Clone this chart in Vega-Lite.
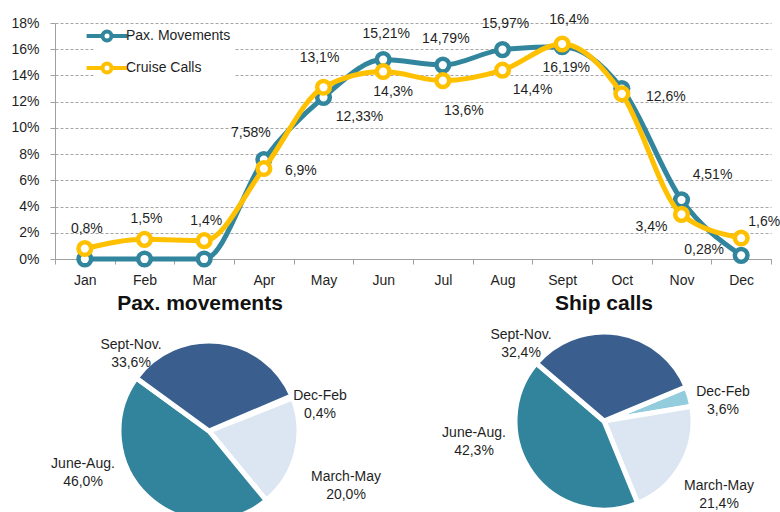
{
  "$schema": "https://vega.github.io/schema/vega-lite/v6.json",
  "padding": {"left": 10, "top": 12, "right": 0, "bottom": 0},
  "background": "white",
  "config": {
    "font": "Liberation Sans",
    "view": {"stroke": null},
    "text": {"fontSize": 14, "color": "#1f1f1f"}
  },
  "datasets": {
    "monthly": [
      {"month": "Jan", "series": "Pax. Movements", "share": 0, "label": ""},
      {"month": "Feb", "series": "Pax. Movements", "share": 0, "label": ""},
      {"month": "Mar", "series": "Pax. Movements", "share": 0, "label": ""},
      {"month": "Apr", "series": "Pax. Movements", "share": 7.58, "label": "7,58%"},
      {"month": "May", "series": "Pax. Movements", "share": 12.33, "label": "12,33%"},
      {"month": "Jun", "series": "Pax. Movements", "share": 15.21, "label": "15,21%"},
      {"month": "Jul", "series": "Pax. Movements", "share": 14.79, "label": "14,79%"},
      {"month": "Aug", "series": "Pax. Movements", "share": 15.97, "label": "15,97%"},
      {"month": "Sept", "series": "Pax. Movements", "share": 16.19, "label": "16,19%"},
      {"month": "Oct", "series": "Pax. Movements", "share": 13.0, "label": ""},
      {"month": "Nov", "series": "Pax. Movements", "share": 4.51, "label": "4,51%"},
      {"month": "Dec", "series": "Pax. Movements", "share": 0.28, "label": "0,28%"},
      {"month": "Jan", "series": "Cruise Calls", "share": 0.8, "label": "0,8%"},
      {"month": "Feb", "series": "Cruise Calls", "share": 1.5, "label": "1,5%"},
      {"month": "Mar", "series": "Cruise Calls", "share": 1.4, "label": "1,4%"},
      {"month": "Apr", "series": "Cruise Calls", "share": 6.9, "label": "6,9%"},
      {"month": "May", "series": "Cruise Calls", "share": 13.1, "label": "13,1%"},
      {"month": "Jun", "series": "Cruise Calls", "share": 14.3, "label": "14,3%"},
      {"month": "Jul", "series": "Cruise Calls", "share": 13.6, "label": "13,6%"},
      {"month": "Aug", "series": "Cruise Calls", "share": 14.4, "label": "14,4%"},
      {"month": "Sept", "series": "Cruise Calls", "share": 16.4, "label": "16,4%"},
      {"month": "Oct", "series": "Cruise Calls", "share": 12.6, "label": "12,6%"},
      {"month": "Nov", "series": "Cruise Calls", "share": 3.4, "label": "3,4%"},
      {"month": "Dec", "series": "Cruise Calls", "share": 1.6, "label": "1,6%"}
    ],
    "pies": [
      {"chart": "Pax. movements", "season": "Dec-Feb", "q": 1, "share": 0.4, "label": "Dec-Feb\n0,4%"},
      {"chart": "Pax. movements", "season": "March-May", "q": 2, "share": 20.0, "label": "March-May\n20,0%"},
      {"chart": "Pax. movements", "season": "June-Aug.", "q": 3, "share": 46.0, "label": "June-Aug.\n46,0%"},
      {"chart": "Pax. movements", "season": "Sept-Nov.", "q": 4, "share": 33.6, "label": "Sept-Nov.\n33,6%"},
      {"chart": "Ship calls", "season": "Dec-Feb", "q": 1, "share": 3.6, "label": "Dec-Feb\n3,6%"},
      {"chart": "Ship calls", "season": "March-May", "q": 2, "share": 21.4, "label": "March-May\n21,4%"},
      {"chart": "Ship calls", "season": "June-Aug.", "q": 3, "share": 42.3, "label": "June-Aug.\n42,3%"},
      {"chart": "Ship calls", "season": "Sept-Nov.", "q": 4, "share": 32.4, "label": "Sept-Nov.\n32,4%"}
    ]
  },
  "spacing": 6,
  "resolve": {"scale": {"color": "independent"}, "legend": {"color": "independent"}},
  "vconcat": [
    {
      "width": 716,
      "height": 236,
      "data": {"name": "monthly"},
      "encoding": {
        "x": {
          "field": "month", "type": "ordinal",
          "sort": ["Jan","Feb","Mar","Apr","May","Jun","Jul","Aug","Sept","Oct","Nov","Dec"],
          "scale": {"type": "band", "paddingInner": 0, "paddingOuter": 0},
          "axis": {"title": null, "labelAngle": 0, "tickBand": "extent", "grid": false,
                   "domainColor": "#a0a0a0", "tickColor": "#a0a0a0", "tickSize": 5,
                   "labelFontSize": 14, "labelColor": "#1f1f1f", "labelPadding": 9}
        },
        "y": {
          "field": "share", "type": "quantitative",
          "scale": {"domain": [0, 18]},
          "axis": {"title": null, "values": [0,2,4,6,8,10,12,14,16,18], "labelExpr": "datum.value + '%'",
                   "grid": true, "gridDash": [3,2], "gridColor": "#a6a6a6",
                   "domainColor": "#a0a0a0", "tickColor": "#a0a0a0", "tickSize": 5,
                   "labelFontSize": 14, "labelColor": "#1f1f1f", "labelPadding": 11}
        }
      },
      "layer": [
        {
          "transform": [{"filter": "datum.series == 'Pax. Movements'"}],
          "mark": {"type": "line", "interpolate": "monotone", "strokeWidth": 5},
          "encoding": {
            "color": {"field": "series", "type": "nominal",
              "scale": {"domain": ["Pax. Movements", "Cruise Calls"], "range": ["#31859C", "#FFC000"]},
              "legend": {"title": null, "orient": "none", "legendX": 40, "legendY": 1, "fillColor": "white",
                         "padding": 4, "symbolType": "M-3.4,0L-0.75,0M0.75,0L3.4,0M-0.75,0A0.75,0.75,0,1,1,0.75,0A0.75,0.75,0,1,1,-0.75,0Z",
                         "symbolSize": 144, "symbolStrokeWidth": 4, "symbolFillColor": "white",
                         "labelFontSize": 14, "labelColor": "#1f1f1f", "labelOffset": 11, "rowPadding": 6}}
          }
        },
        {
          "transform": [{"filter": "datum.series == 'Pax. Movements'"}],
          "mark": {"type": "point", "shape": "circle", "filled": false, "fill": "white", "size": 160, "strokeWidth": 4.5, "opacity": 1},
          "encoding": {"color": {"field": "series", "type": "nominal"}}
        },
        {
          "transform": [{"filter": "datum.series == 'Cruise Calls'"}],
          "mark": {"type": "line", "interpolate": "monotone", "strokeWidth": 5},
          "encoding": {"color": {"field": "series", "type": "nominal"}}
        },
        {
          "transform": [{"filter": "datum.series == 'Cruise Calls'"}],
          "mark": {"type": "point", "shape": "circle", "filled": false, "fill": "white", "size": 160, "strokeWidth": 4.5, "opacity": 1},
          "encoding": {"color": {"field": "series", "type": "nominal"}}
        },
        {"transform": [{"filter": "datum.series == 'Pax. Movements' && indexof(['Jun','Jul','Aug'], datum.month) >= 0"}],
         "mark": {"type": "text", "dx": 3, "dy": -26}, "encoding": {"text": {"field": "label"}}},
        {"transform": [{"filter": "datum.series == 'Pax. Movements' && datum.month == 'Apr'"}],
         "mark": {"type": "text", "dx": -13, "dy": -27}, "encoding": {"text": {"field": "label"}}},
        {"transform": [{"filter": "datum.series == 'Pax. Movements' && datum.month == 'May'"}],
         "mark": {"type": "text", "dx": 36, "dy": 20}, "encoding": {"text": {"field": "label"}}},
        {"transform": [{"filter": "datum.series == 'Pax. Movements' && datum.month == 'Sept'"}],
         "mark": {"type": "text", "dx": 4, "dy": 21}, "encoding": {"text": {"field": "label"}}},
        {"transform": [{"filter": "datum.series == 'Pax. Movements' && datum.month == 'Nov'"}],
         "mark": {"type": "text", "dx": 31, "dy": -25}, "encoding": {"text": {"field": "label"}}},
        {"transform": [{"filter": "datum.series == 'Pax. Movements' && datum.month == 'Dec'"}],
         "mark": {"type": "text", "dx": -37, "dy": -5}, "encoding": {"text": {"field": "label"}}},
        {"transform": [{"filter": "datum.series == 'Cruise Calls' && indexof(['Jan','Feb','Mar'], datum.month) >= 0"}],
         "mark": {"type": "text", "dx": 2, "dy": -20}, "encoding": {"text": {"field": "label"}}},
        {"transform": [{"filter": "datum.series == 'Cruise Calls' && datum.month == 'May'"}],
         "mark": {"type": "text", "dx": -4, "dy": -29}, "encoding": {"text": {"field": "label"}}},
        {"transform": [{"filter": "datum.series == 'Cruise Calls' && datum.month == 'Sept'"}],
         "mark": {"type": "text", "dx": 7, "dy": -24}, "encoding": {"text": {"field": "label"}}},
        {"transform": [{"filter": "datum.series == 'Cruise Calls' && datum.month == 'Apr'"}],
         "mark": {"type": "text", "dx": 37, "dy": 2}, "encoding": {"text": {"field": "label"}}},
        {"transform": [{"filter": "datum.series == 'Cruise Calls' && datum.month == 'Jun'"}],
         "mark": {"type": "text", "dx": 10, "dy": 20}, "encoding": {"text": {"field": "label"}}},
        {"transform": [{"filter": "datum.series == 'Cruise Calls' && datum.month == 'Jul'"}],
         "mark": {"type": "text", "dx": 21, "dy": 30}, "encoding": {"text": {"field": "label"}}},
        {"transform": [{"filter": "datum.series == 'Cruise Calls' && datum.month == 'Aug'"}],
         "mark": {"type": "text", "dx": 30, "dy": 20}, "encoding": {"text": {"field": "label"}}},
        {"transform": [{"filter": "datum.series == 'Cruise Calls' && datum.month == 'Oct'"}],
         "mark": {"type": "text", "dx": 44, "dy": 3}, "encoding": {"text": {"field": "label"}}},
        {"transform": [{"filter": "datum.series == 'Cruise Calls' && datum.month == 'Nov'"}],
         "mark": {"type": "text", "dx": -30, "dy": 13}, "encoding": {"text": {"field": "label"}}},
        {"transform": [{"filter": "datum.series == 'Cruise Calls' && datum.month == 'Dec'"}],
         "mark": {"type": "text", "dx": 23, "dy": -16}, "encoding": {"text": {"field": "label"}}}
      ]
    },
    {
      "width": 716,
      "height": 184,
      "data": {"name": "pies"},
      "encoding": {
        "x": {"field": "chart", "type": "nominal",
              "scale": {"type": "point", "padding": 0, "domain": ["Pax. movements", "Ship calls"], "range": [154, 549]}, "axis": null},
        "y": {"field": "chart", "type": "nominal",
              "scale": {"type": "point", "padding": 0, "domain": ["Pax. movements", "Ship calls"], "range": [102, 92]}, "axis": null}
      },
      "layer": [
        {
          "transform": [{"filter": "datum.chart == 'Pax. movements'"}],
          "mark": {"type": "arc", "outerRadius": 90, "stroke": "white", "strokeWidth": 5, "clip": true},
          "encoding": {
            "theta": {"field": "share", "type": "quantitative", "stack": true, "scale": {"range": [1.17, 7.453]}},
            "order": {"field": "q", "type": "quantitative", "sort": "ascending"},
            "color": {"field": "season", "type": "nominal",
              "scale": {"domain": ["Dec-Feb", "March-May", "June-Aug.", "Sept-Nov."], "range": ["#93CDDD", "#DCE6F2", "#31849B", "#3A5F8F"]},
              "legend": null}
          }
        },
        {
          "transform": [{"filter": "datum.chart == 'Ship calls'"}],
          "mark": {"type": "arc", "outerRadius": 89, "stroke": "white", "strokeWidth": 5, "clip": true},
          "encoding": {
            "theta": {"field": "share", "type": "quantitative", "stack": true, "scale": {"range": [1.178, 7.461]}},
            "order": {"field": "q", "type": "quantitative", "sort": "ascending"},
            "color": {"field": "season", "type": "nominal", "legend": null}
          }
        },
        {"transform": [{"filter": "datum.chart == 'Pax. movements' && datum.season == 'Dec-Feb'"}],
         "mark": {"type": "text", "fontSize": 21, "fontWeight": "bold", "dx": -9, "dy": -127, "color": "#111"},
         "encoding": {"text": {"field": "chart"}}},
        {"transform": [{"filter": "datum.chart == 'Ship calls' && datum.season == 'Dec-Feb'"}],
         "mark": {"type": "text", "fontSize": 21, "fontWeight": "bold", "dx": 0, "dy": -117, "color": "#111"},
         "encoding": {"text": {"field": "chart"}}},
        {"transform": [{"filter": "datum.chart == 'Pax. movements' && datum.season == 'Sept-Nov.'"}],
         "mark": {"type": "text", "lineBreak": "\n", "lineHeight": 18, "dx": -78, "dy": -86}, "encoding": {"text": {"field": "label"}}},
        {"transform": [{"filter": "datum.chart == 'Pax. movements' && datum.season == 'Dec-Feb'"}],
         "mark": {"type": "text", "lineBreak": "\n", "lineHeight": 18, "dx": 111, "dy": -35}, "encoding": {"text": {"field": "label"}}},
        {"transform": [{"filter": "datum.chart == 'Pax. movements' && datum.season == 'March-May'"}],
         "mark": {"type": "text", "lineBreak": "\n", "lineHeight": 18, "dx": 137, "dy": 46}, "encoding": {"text": {"field": "label"}}},
        {"transform": [{"filter": "datum.chart == 'Pax. movements' && datum.season == 'June-Aug.'"}],
         "mark": {"type": "text", "lineBreak": "\n", "lineHeight": 18, "dx": -126, "dy": 33}, "encoding": {"text": {"field": "label"}}},
        {"transform": [{"filter": "datum.chart == 'Ship calls' && datum.season == 'Sept-Nov.'"}],
         "mark": {"type": "text", "lineBreak": "\n", "lineHeight": 18, "dx": -83, "dy": -86}, "encoding": {"text": {"field": "label"}}},
        {"transform": [{"filter": "datum.chart == 'Ship calls' && datum.season == 'Dec-Feb'"}],
         "mark": {"type": "text", "lineBreak": "\n", "lineHeight": 18, "dx": 119, "dy": -29}, "encoding": {"text": {"field": "label"}}},
        {"transform": [{"filter": "datum.chart == 'Ship calls' && datum.season == 'March-May'"}],
         "mark": {"type": "text", "lineBreak": "\n", "lineHeight": 18, "dx": 115, "dy": 65}, "encoding": {"text": {"field": "label"}}},
        {"transform": [{"filter": "datum.chart == 'Ship calls' && datum.season == 'June-Aug.'"}],
         "mark": {"type": "text", "lineBreak": "\n", "lineHeight": 18, "dx": -130, "dy": 12}, "encoding": {"text": {"field": "label"}}}
      ],
      "resolve": {"scale": {"theta": "independent"}}
    }
  ]
}
